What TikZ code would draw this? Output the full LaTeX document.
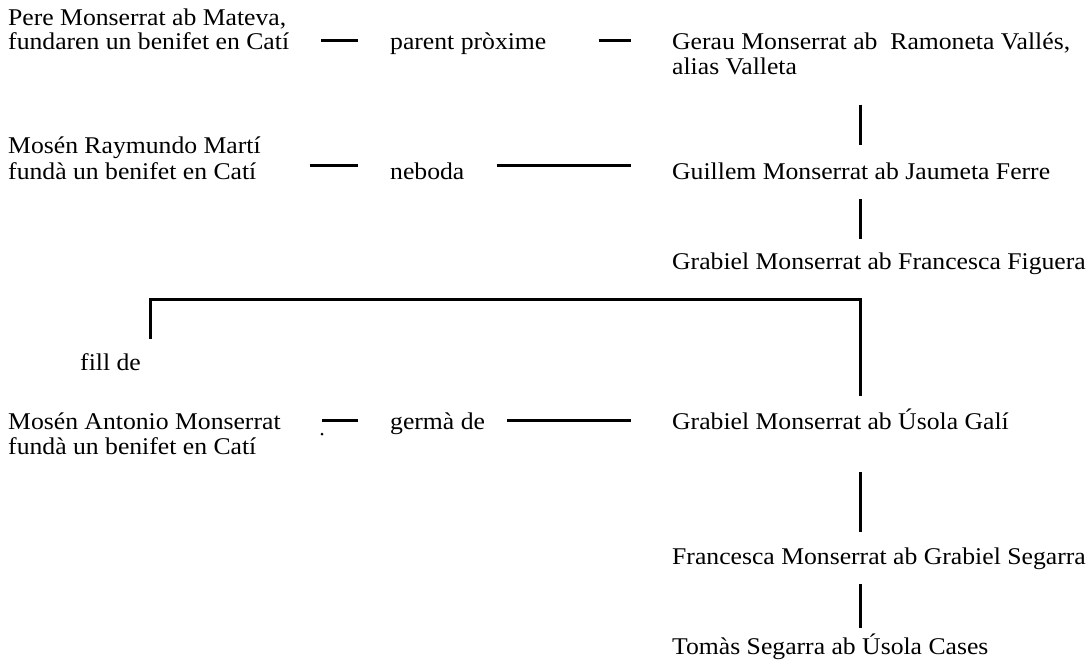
\documentclass[tikz,border=0pt]{standalone}
\usepackage{fontspec}
\setmainfont{Liberation Serif}[FakeStretch=1.07]
\usetikzlibrary{positioning,calc}
\tikzset{
  txt/.style ={anchor=base west,inner sep=0pt,font=\fontsize{24}{25}\selectfont},
  link/.style={line width=3pt},
}

\begin{document}
\begin{tikzpicture}[x=1pt,y=-1pt]
\useasboundingbox[fill=white] (0,0) rectangle (1090,659);
\coordinate (spine) at (860,0);
% Row 1
\node[txt] (pere1) at (8,25) {Pere Monserrat ab Mateva,};
\node[txt] (pere2) at (8,49) {fundaren un benifet en Catí};
\node[txt] (parent) at (390,49) {parent pròxime};
\node[txt] (gerau1) at (672,49) {Gerau Monserrat ab\ \ Ramoneta Vallés,};
\node[txt] (gerau2) at (672,74) {alias Valleta};
% Row 2
\node[txt] (mosr1) at (8,153) {Mosén Raymundo Martí};
\node[txt] (mosr2) at (8,179) {fundà un benifet en Catí};
\node[txt] (neboda) at (390,179) {neboda};
\node[txt] (guillem) at (672,179) {Guillem Monserrat ab Jaumeta Ferre};
% Row 3
\node[txt] (grabff) at (672,269) {Grabiel Monserrat ab Francesca Figuera};
\node[txt] (filld) at (80,370) {fill de};
% Row 4
\node[txt] (mosa1) at (8,429) {Mosén Antonio Monserrat};
\node[txt] (mosa2) at (8,454) {fundà un benifet en Catí};
\node[txt] (germa) at (390,429) {germà de};
\node[txt] (grabug) at (672,429) {Grabiel Monserrat ab Úsola Galí};
\node[txt] (franc) at (672,564) {Francesca Monserrat ab Grabiel Segarra};
\node[txt] (tomas) at (672,654) {Tomàs Segarra ab Úsola Cases};
% horizontal links
\draw[link,shorten <=32pt,shorten >=32pt] ([yshift=9pt]pere2.base east) -- ([yshift=9pt]parent.base west);
\draw[link,shorten <=52pt,shorten >=41pt] ([yshift=9pt]parent.base east) -- ([yshift=9pt]gerau1.base west);
\draw[link,shorten <=53pt,shorten >=32pt] ([yshift=14pt]mosr2.base east) -- ([yshift=14pt]neboda.base west);
\draw[link,shorten <=32pt,shorten >=41pt] ([yshift=14pt]neboda.base east) -- ([yshift=14pt]guillem.base west);
\draw[link,shorten <=41pt,shorten >=32pt] ([yshift=9pt]mosa1.base east) -- ([yshift=9pt]germa.base west);
\draw[link,shorten <=22pt,shorten >=41pt] ([yshift=9pt]germa.base east) -- ([yshift=9pt]grabug.base west);
\fill (322,434) circle (1.5);
% descent
\draw[link,shorten <=30pt,shorten >=17pt] (gerau2.south -| spine) -- (guillem.north -| spine);
\draw[link,shorten <=20pt,shorten >=13pt] (guillem.south -| spine) -- (grabff.north -| spine);
\draw[link,shorten <=14pt] ([xshift=70pt]filld.north west) -- ++(0,-53) -| ([yshift=12pt]grabug.north -| spine);
\draw[link,shorten <=43pt,shorten >=15pt] (grabug.south -| spine) -- (franc.north -| spine);
\draw[link,shorten <=15pt,shorten >=5pt] (franc.south -| spine) -- (tomas.north -| spine);
\end{tikzpicture}
\end{document}
